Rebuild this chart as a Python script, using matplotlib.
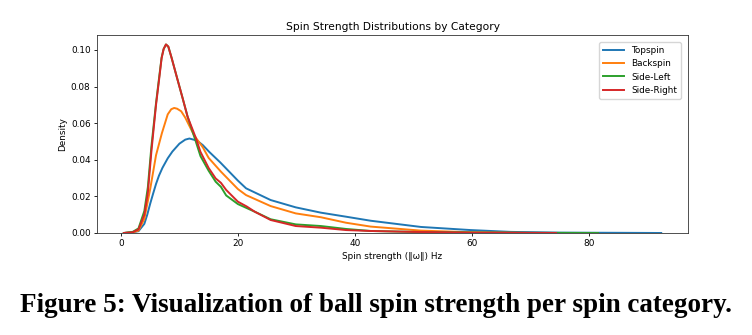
import matplotlib.pyplot as plt

# valori (densita' KDE per categoria di spin)
topspin_x = [0.5, 2, 3, 4, 4.5, 5, 5.5, 6, 6.5, 7.1, 8, 8.8, 10, 11, 11.7, 13, 14, 15.1,
             17, 20, 21.4, 25.6, 29.9, 34.2, 38.5, 42.7, 51.3, 59.8, 66.7, 75, 85, 92.4]
topspin_y = [0.0, 0.0004, 0.001, 0.005, 0.010, 0.016, 0.0215, 0.0268, 0.0313, 0.0356,
             0.0408, 0.0445, 0.0488, 0.051, 0.0516, 0.0505, 0.048, 0.0443, 0.0385, 0.0286,
             0.0244, 0.018, 0.014, 0.0111, 0.0089, 0.0067, 0.0033, 0.0016, 0.0006, 0.0002,
             0.0001, 0.0]

backspin_x = [0.5, 2, 3, 4, 5, 6, 7, 8, 8.6, 9.1, 9.6, 10.3, 11, 12.5, 14, 15, 17.1, 20,
              21.4, 25.6, 29.9, 34.2, 38.5, 42.7, 51.3, 59.8, 70]
backspin_y = [0.0, 0.0003, 0.0013, 0.0077, 0.024, 0.0425, 0.0545, 0.0648, 0.0676, 0.0683,
              0.0679, 0.0665, 0.063, 0.0534, 0.0468, 0.0410, 0.0335, 0.024, 0.0207,
              0.0147, 0.0107, 0.0086, 0.0056, 0.0035, 0.0013, 0.0004, 0.0]

sideleft_x = [0.5, 2, 3, 4, 4.6, 5.2, 6.0, 6.55, 6.95, 7.3, 7.7, 8.1, 8.66, 9.57, 10.5,
              11.4, 12.8, 13.6, 15, 16.2, 17.1, 18, 20, 22.9, 25.6, 29.9, 34.2, 38.5, 42.7,
              50, 60, 70, 81.6]
sideleft_y = [0.0, 0.0006, 0.0025, 0.012, 0.025, 0.047, 0.071, 0.0855, 0.0958, 0.1005,
              0.103, 0.1018, 0.0957, 0.085, 0.0742, 0.0635, 0.050, 0.042, 0.034, 0.028,
              0.0252, 0.0205, 0.0158, 0.0116, 0.0075, 0.0047, 0.0038, 0.0022, 0.0011,
              0.0006, 0.0003, 0.0001, 0.0]

sideright_x = [0.5, 2, 3, 4, 4.6, 5.2, 6.0, 6.55, 6.95, 7.3, 7.7, 8.1, 8.66, 9.57, 10.5,
               11.4, 12.8, 13.6, 15, 16.2, 17.1, 18, 20, 21.5, 22.9, 25.6, 29.9, 34.2,
               38.5, 42.7, 50, 60, 74.4]
sideright_y = [0.0, 0.0004, 0.002, 0.010, 0.022, 0.0443, 0.070, 0.0845, 0.0954, 0.1005,
               0.103, 0.1018, 0.0957, 0.085, 0.0742, 0.0635, 0.052, 0.0443, 0.0355,
               0.0298, 0.0274, 0.0235, 0.0171, 0.0145, 0.0116, 0.0071, 0.0038, 0.0029,
               0.0016, 0.0011, 0.0006, 0.0002, 0.0]

# il grafico originale sembra ridotto a circa 0.64 della scala di default
fs = 6.4
plt.rcParams['axes.linewidth'] = 0.6
plt.rcParams['xtick.major.size'] = 2.3
plt.rcParams['ytick.major.size'] = 2.3
plt.rcParams['xtick.major.width'] = 0.6
plt.rcParams['ytick.major.width'] = 0.6
plt.rcParams['xtick.major.pad'] = 2.3
plt.rcParams['ytick.major.pad'] = 2.3
plt.rcParams['axes.edgecolor'] = '#333333'

fig = plt.figure(figsize=(7.52, 3.35), dpi=100)
ax = fig.add_axes([0.129, 0.3045, 0.786, 0.591])
ax.plot(topspin_x, topspin_y, color='#1f77b4', lw=1.4, label='Topspin')
ax.plot(backspin_x, backspin_y, color='#ff7f0e', lw=1.4, label='Backspin')
ax.plot(sideleft_x, sideleft_y, color='#2ca02c', lw=1.4, label='Side-Left')
ax.plot(sideright_x, sideright_y, color='#d62728', lw=1.4, label='Side-Right')
ax.set_ylim(bottom=0)
ax.set_xticks([0, 20, 40, 60, 80])
ax.tick_params(labelsize=fs)
ax.set_xlabel('Spin strength (‖ω‖) Hz', fontsize=fs, labelpad=2.6)
ax.set_ylabel('Density', fontsize=fs, labelpad=2.6)
ax.set_title('Spin Strength Distributions by Category', fontsize=7.7, pad=3.8)
ax.legend(fontsize=fs, loc='upper right', handlelength=2.4, borderaxespad=0.8)

fig.text(0.5, 0.089, 'Figure 5: Visualization of ball spin strength per spin category.',
         ha='center', va='center', fontsize=19.5, fontweight='bold', family='Liberation Serif')

plt.savefig('out.png')
